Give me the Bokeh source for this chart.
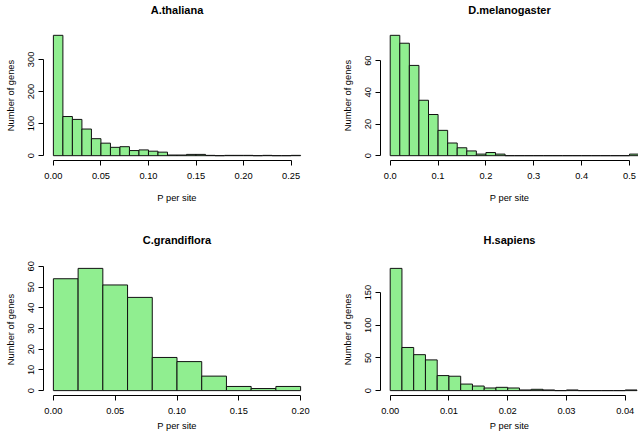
import numpy as np
from bokeh.plotting import figure
from bokeh.layouts import gridplot
from bokeh.models import Range1d, FixedTicker, NumeralTickFormatter, ColumnDataSource, LinearAxis
from bokeh.embed import file_html
from bokeh.resources import INLINE

# ---- data ----
titles = ["A.thaliana", "D.melanogaster", "C.grandiflora", "H.sapiens"]

athaliana_start, athaliana_width = 0.0, 0.01
athaliana_counts = [375, 122, 113, 83, 53, 39, 26, 28, 16, 18, 14, 11, 2, 2, 4, 4,
                    1, 0, 1, 1, 1, 0, 1, 0, 0, 1]

dmel_start, dmel_width = 0.0, 0.02
dmel_counts = [76, 71, 57, 35, 26, 16, 8, 5, 3, 1, 2, 1, 0, 0, 0, 0, 0, 0, 0, 0,
               0, 0, 0, 0, 0, 1]

cgrand_start, cgrand_width = 0.0, 0.02
cgrand_counts = [54, 59, 51, 45, 16, 14, 7, 2, 1, 2]

hsap_start, hsap_width = 0.0, 0.002
hsap_counts = [187, 66, 55, 47, 23, 22, 10, 7, 4, 5, 4, 1, 2, 1, 0, 1, 0, 0, 0, 0, 1]

x_ticks = [[0.0, 0.05, 0.10, 0.15, 0.20, 0.25],
           [0.0, 0.1, 0.2, 0.3, 0.4, 0.5],
           [0.0, 0.05, 0.10, 0.15, 0.20],
           [0.0, 0.01, 0.02, 0.03, 0.04]]
x_formats = ["0.00", "0.0", "0.00", "0.00"]
y_ticks = [[0, 100, 200, 300],
           [0, 20, 40, 60],
           [0, 10, 20, 30, 40, 50, 60],
           [0, 50, 100, 150]]

# visible x windows of each panel (the right-hand panels are cut at the right edge)
x_windows = [(-0.0104, 0.2704), (-0.0203, 0.5188), (-0.008, 0.208), (-0.00165, 0.04226)]

xlabel = "P per site"
ylabel = "Number of genes"

FONT = "Liberation Sans"
FS = "9.3px"


def make_panel(i, start, width, counts, fig_w, fig_h, mb_left, mb_right, mb_top, mb_bottom,
               title_standoff, xlab_standoff):
    counts = np.asarray(counts, dtype=float)
    n = len(counts)
    left = start + width * np.arange(n)
    right = left + width
    ymax = counts.max()
    y0, y1 = -0.04 * ymax, 1.04 * ymax
    x0, x1 = x_windows[i]
    p = figure(width=fig_w, height=fig_h, output_backend="svg", toolbar_location=None,
               x_range=Range1d(x0, x1), y_range=Range1d(y0, y1),
               min_border_left=mb_left, min_border_right=mb_right,
               min_border_top=mb_top, min_border_bottom=mb_bottom)
    src = ColumnDataSource(dict(left=left, right=right, top=counts, bottom=np.zeros(n)))
    p.quad(left="left", right="right", top="top", bottom="bottom", source=src,
           fill_color="#90EE90", line_color="#111111", line_width=1)

    p.outline_line_color = None
    p.grid.visible = False
    p.background_fill_color = "white"
    p.border_fill_color = "white"
    xa = p.below[0]
    ya = p.left[0]
    for ax in (xa, ya):
        ax.axis_line_color = "black"
        ax.major_tick_line_color = "black"
        ax.major_tick_out = 5
        ax.major_tick_in = 0
        ax.minor_tick_line_color = None
        ax.major_label_text_font = FONT
        ax.major_label_text_font_size = FS
        ax.major_label_text_color = "black"
        ax.axis_label_text_font = FONT
        ax.axis_label_text_font_size = FS
        ax.axis_label_text_font_style = "normal"
        ax.axis_label_text_color = "black"
    xa.ticker = FixedTicker(ticks=x_ticks[i])
    xa.formatter = NumeralTickFormatter(format=x_formats[i])
    xa.bounds = (x_ticks[i][0], x_ticks[i][-1])
    xa.axis_label = xlabel
    xa.major_label_standoff = 7
    xa.axis_label_standoff = xlab_standoff
    ya.ticker = FixedTicker(ticks=y_ticks[i])
    ya.formatter = NumeralTickFormatter(format="0")
    ya.bounds = (y_ticks[i][0], y_ticks[i][-1])
    ya.axis_label = ylabel
    ya.major_label_orientation = "vertical"
    ya.major_label_standoff = 4
    ya.axis_label_standoff = 10

    # R-style main title: a tick-less axis above the plotting region, label centred over it
    tax = LinearAxis(ticker=FixedTicker(ticks=[]), axis_line_color=None,
                     major_tick_line_color=None, minor_tick_line_color=None,
                     major_tick_out=0, major_tick_in=0, major_label_standoff=0,
                     axis_label=titles[i], axis_label_standoff=title_standoff,
                     axis_label_text_font=FONT, axis_label_text_font_size="11px",
                     axis_label_text_font_style="bold", axis_label_text_color="black")
    p.add_layout(tax, "above")
    return p


p1 = make_panel(0, athaliana_start, athaliana_width, athaliana_counts, 318, 220, 43, 8, 27, 60, 15, 11)
p2 = make_panel(1, dmel_start, dmel_width, dmel_counts, 320, 220, 62, 0, 27, 60, 15, 11)
p3 = make_panel(2, cgrand_start, cgrand_width, cgrand_counts, 318, 221, 43, 8, 43, 46, 18, 4)
p4 = make_panel(3, hsap_start, hsap_width, hsap_counts, 320, 221, 62, 0, 43, 46, 18, 4)

grid = gridplot([[p1, p2], [p3, p4]], toolbar_location=None)

open("out.html", "w").write(file_html(grid, INLINE))
